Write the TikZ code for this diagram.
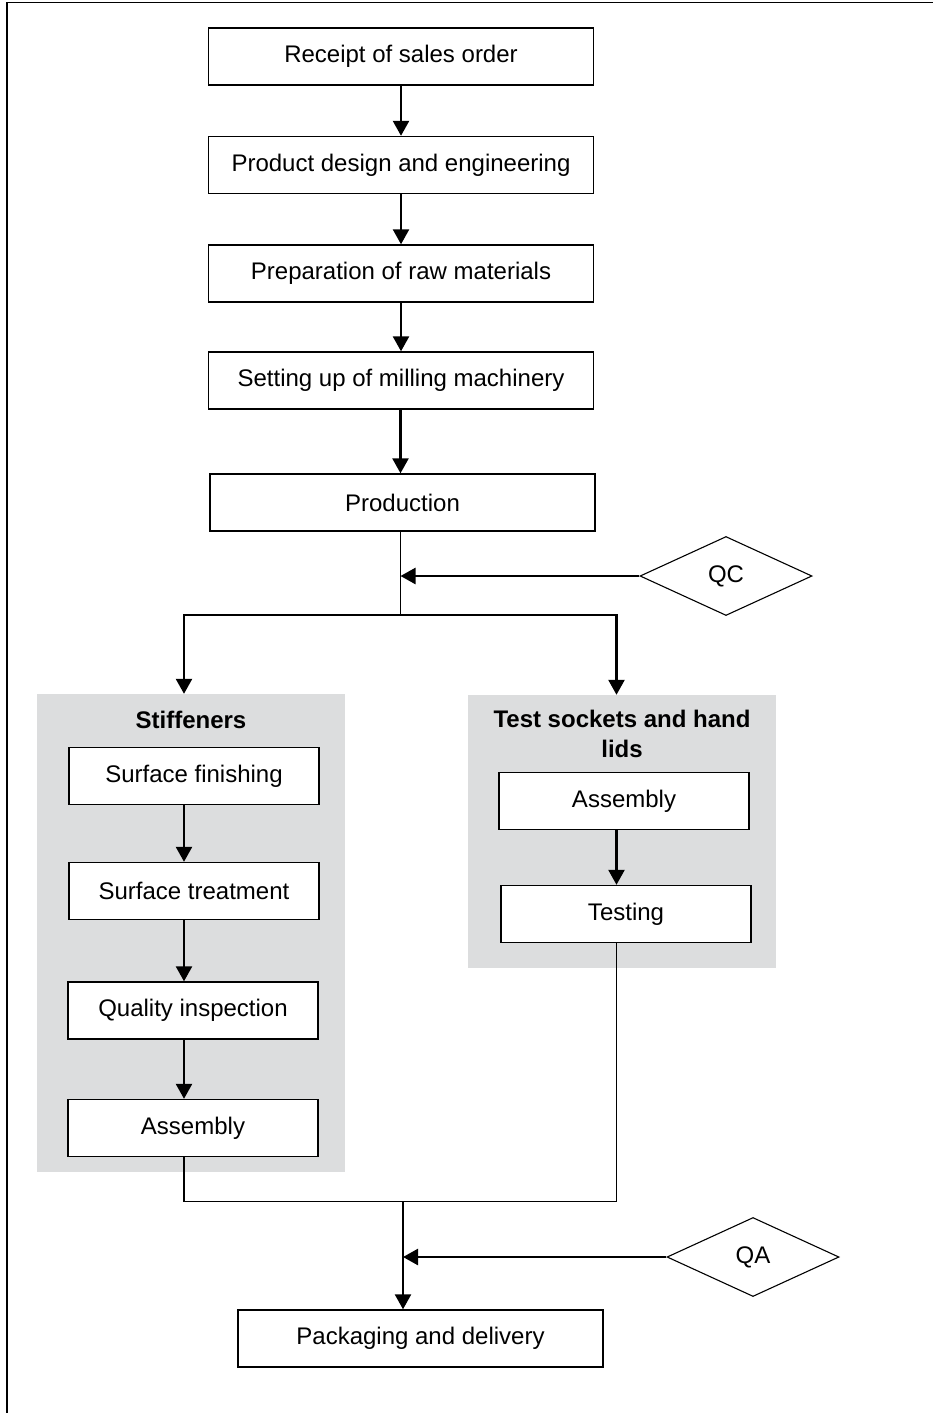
\documentclass[tikz,border=0pt]{standalone}
\usepackage{fontspec}
\setmainfont{Liberation Sans}
\usetikzlibrary{arrows.meta,shapes.geometric}
\definecolor{panelgrey}{HTML}{DCDDDE}
\begin{document}
\begin{tikzpicture}[x=1pt,y=-1pt,
  box/.style={draw, line width=1.4pt, fill=white, inner sep=0pt,
    minimum width=#1, minimum height=57pt, font=\fontsize{24}{28}\selectfont},
  box/.default=385pt,
  panel/.style={fill=panelgrey, inner sep=0pt},
  title/.style={font=\bfseries\fontsize{24}{30}\selectfont, align=center, inner sep=0pt},
  check/.style={diamond, draw, line width=1.1pt, inner sep=0pt, minimum width=172pt,
    minimum height=79pt, font=\fontsize{24}{28}\selectfont},
  arr/.style={line width=2.5pt, -{Triangle[width=16pt,length=15pt]}},
  thinline/.style={line width=1.5pt},
  frameline/.style={line width=1.6pt}
]
\useasboundingbox (0,0) rectangle (932,1413);
% outer frame (cut off at right and bottom)
\draw[frameline] (7,1414) -- (7,2.5) -- (933,2.5);

% main column
\node[box] (b1) at (401,56.5) {Receipt of sales order};
\node[box] (b2) at (401,165) {Product design and engineering};
\node[box] (b3) at (401,273.5) {Preparation of raw materials};
\node[box] (b4) at (401,380.5) {Setting up of milling machinery};
\node[box] (b5) at (402.5,502.5) {Production};

\draw[arr] (b1) -- (b2);
\draw[arr] (b2) -- (b3);
\draw[arr] (b3) -- (b4);
\coordinate (j1) at (400.5,615);
\draw[arr] (b4.south -| j1) -- (b5.north -| j1);

% panels
\node[panel, minimum width=308pt, minimum height=478pt] (g1) at (191,933) {};
\node[panel, minimum width=308pt, minimum height=273pt] (g2) at (622,831.5) {};
\node[title] (t1) at (191,720) {Stiffeners};
\node[title] (t2) at (622,734) {Test sockets and hand\\lids};

% QC
\node[check] (qc) at (726,576) {QC};
\draw[thinline] (b5.south -| j1) -- (j1);
\draw[arr] (qc.west) -- (qc.west -| j1);
\coordinate (la) at (184,0);
\coordinate (ra) at (616.5,0);
\draw[arr] (j1) -| (la |- g1.north);
\draw[arr] (j1) -| (ra |- g2.north);

% stiffeners column
\node[box=250pt] (s1) at (194,776) {Surface finishing};
\node[box=250pt] (s2) at (194,891) {Surface treatment};
\node[box=250pt] (s3) at (193,1010.5) {Quality inspection};
\node[box=250pt] (s4) at (193,1128) {Assembly};
\draw[arr] (s1.south -| la) -- (s2.north -| la);
\draw[arr] (s2.south -| la) -- (s3.north -| la);
\draw[arr] (s3.south -| la) -- (s4.north -| la);

% test sockets column
\node[box=250pt] (r1) at (624,801) {Assembly};
\node[box=250pt] (r2) at (626,914) {Testing};
\draw[arr] (r1.south -| ra) -- (r2.north -| ra);

% merge
\coordinate (j2) at (403,1201.5);
\draw[thinline] (s4.south -| la) -- (la |- j2) -- (ra |- j2) -- (r2.south -| ra);

% QA and packaging
\node[box=365pt] (p) at (420.5,1338.5) {Packaging and delivery};
\node[check] (qa) at (753,1257) {QA};
\draw[arr] (j2) -- (p.north -| j2);
\draw[arr] (qa.west) -- (qa.west -| j2);
\end{tikzpicture}
\end{document}
